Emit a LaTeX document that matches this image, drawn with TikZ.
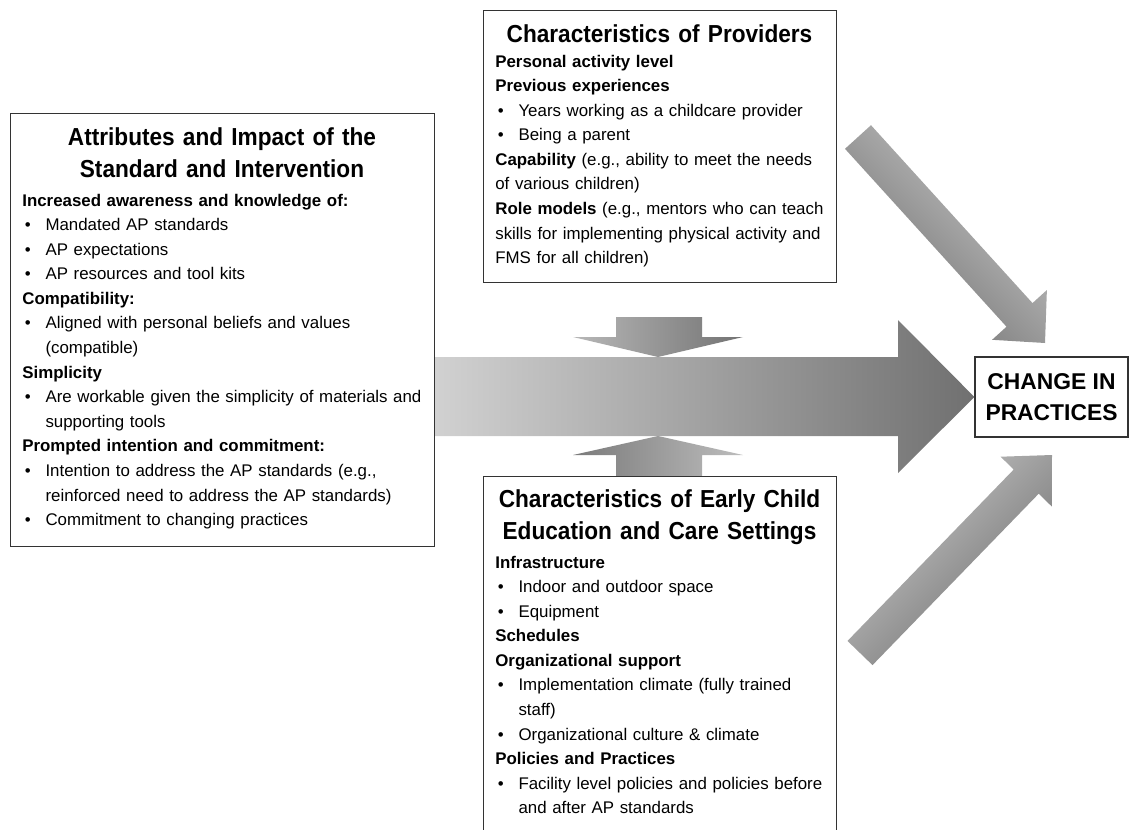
\documentclass[tikz,border=0pt]{standalone}
\usepackage{fontspec}
\setmainfont{Liberation Sans}
\newfontfamily\titlefont[FakeStretch=0.92]{Liberation Sans}
\usepackage{tikz}

\newcommand\bul{\makebox[13.2pt][l]{\hspace{1.5pt}\textbullet}}
\newcommand\cont{\hspace*{13.2pt}}

\begin{document}
\begin{tikzpicture}[x=0.02cm,y=-0.02cm,
  panel/.style={draw=black!80,line width=0.7pt,fill=white,inner sep=0pt,anchor=north west},
  paneltitle/.style={align=center,inner sep=0pt,anchor=base,font=\titlefont\bfseries\fontsize{14}{18.4}\selectfont},
  panelbody/.style={align=left,inner sep=0pt,anchor=base west,font=\fontsize{9.6}{14}\selectfont}]
\useasboundingbox (0,0) rectangle (1130,829);
\clip (0,0) rectangle (1130,829);

\node[draw=black!80,line width=0.7pt,fill=white,minimum width=3.06cm,minimum height=1.6cm,
  align=center,font=\bfseries\fontsize{13}{18}\selectfont] (change) at (1051.5,397) {CHANGE IN\\PRACTICES};

\shade[left color=black!18,right color=black!56]
  (435,357) -- (898,357) -- (898,320) -- (change.west) -- (898,473) -- (898,436) -- (435,436) -- cycle;
\shade[left color=black!28,right color=black!55]
  (616,317) -- (702,317) -- (702,337) -- (743,337) -- (658,357) -- (573,337) -- (616,337) -- cycle;
\shade[left color=black!52,right color=black!26]
  (616,476) -- (616,455) -- (573,455) -- (658,436) -- (743,455) -- (702,455) -- (702,476) -- cycle;
\shade[left color=black!20,right color=black!58,shading angle=-45]
  (845.0,148.8) -- (1006.5,326.7) -- (992.1,339.8) -- (1045,343) -- (1046.9,290.0) -- (1032.5,303.1) -- (871.0,125.2) -- cycle;
\shade[left color=black!20,right color=black!58,shading angle=45]
  (847.5,640.9) -- (1013.7,469.5) -- (1000.6,456.7) -- (1052,455) -- (1051.8,506.5) -- (1038.7,493.7) -- (872.5,665.1) -- cycle;

\node[panel,minimum width=8.48cm,minimum height=8.66cm] (attr) at (10,113) {};
\node[paneltitle,text width=8.2cm] (attrtitle) at (222,145) {Attributes and Impact of the\\Standard and Intervention};
\node[panelbody,text width=8.2cm] (attrbody) at (22,206) {%
\textbf{Increased awareness and knowledge of:}\\
\bul Mandated AP standards\\
\bul AP expectations\\
\bul AP resources and tool kits\\
\textbf{Compatibility:}\\
\bul Aligned with personal beliefs and values\\
\cont(compatible)\\
\textbf{Simplicity}\\
\bul Are workable given the simplicity of materials and\\
\cont supporting tools\\
\textbf{Prompted intention and commitment:}\\
\bul Intention to address the AP standards (e.g.,\\
\cont reinforced need to address the AP standards)\\
\bul Commitment to changing practices};

\node[panel,minimum width=7.06cm,minimum height=5.44cm] (prov) at (483,10) {};
\node[paneltitle,text width=6.9cm] (provtitle) at (659.5,42) {Characteristics of Providers};
\node[panelbody,text width=6.8cm] (provbody) at (495,67) {%
\textbf{Personal activity level}\\
\textbf{Previous experiences}\\
\bul Years working as a childcare provider\\
\bul Being a parent\\
\textbf{Capability} (e.g., ability to meet the needs\\
of various children)\\
\textbf{Role models} (e.g., mentors who can teach\\
skills for implementing physical activity and\\
FMS for all children)};

\node[panel,minimum width=7.06cm,minimum height=7.4cm] (setting) at (483,476) {};
\node[paneltitle,text width=6.9cm] (settingtitle) at (659.5,507) {Characteristics of Early Child\\Education and Care Settings};
\node[panelbody,text width=6.8cm] (settingbody) at (495,568) {%
\textbf{Infrastructure}\\
\bul Indoor and outdoor space\\
\bul Equipment\\
\textbf{Schedules}\\
\textbf{Organizational support}\\
\bul Implementation climate (fully trained\\
\cont staff)\\
\bul Organizational culture \& climate\\
\textbf{Policies and Practices}\\
\bul Facility level policies and policies before\\
\cont and after AP standards};
\end{tikzpicture}
\end{document}
